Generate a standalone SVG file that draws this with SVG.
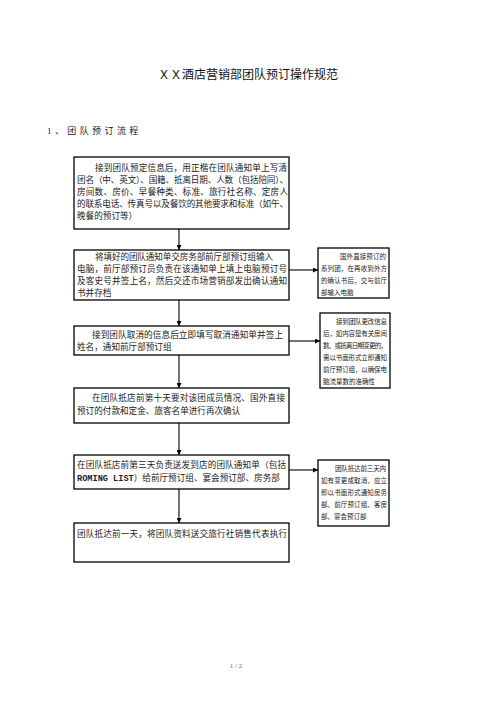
<svg xmlns="http://www.w3.org/2000/svg" width="496" height="701" viewBox="0 0 496 701">
<style>
.bg{fill:#ffffff}
.box{fill:#ffffff;stroke:#000;stroke-width:1.3}
.t{font-family:"Liberation Serif","Noto Sans CJK SC",serif;font-size:8.6px;fill:#222}
.ts{font-family:"Liberation Serif","Noto Sans CJK SC",serif;font-size:6.5px;fill:#222}
.mono{font-family:"Liberation Mono",monospace;font-weight:bold}
.title{font-family:"Liberation Sans","Noto Sans CJK SC",sans-serif;font-size:12px;fill:#111}
.h{font-family:"Liberation Serif","Noto Sans CJK SC",serif;font-size:9px;fill:#222;letter-spacing:3.4px}
.foot{font-family:"Liberation Serif","Noto Sans CJK SC",serif;font-size:7px;fill:#666}
.ln{stroke:#000;stroke-width:1.1;fill:none}
</style>
<defs>
<marker id="ah" viewBox="0 0 10 10" refX="10" refY="5" markerWidth="5" markerHeight="5" orient="auto" markerUnits="userSpaceOnUse">
<path d="M0,0 L10,5 L0,10 z" fill="#000"/>
</marker>
</defs>
<rect class="bg" x="0" y="0" width="496" height="701"/>
<text class="title" x="248" y="79" text-anchor="middle">ＸＸ酒店营销部团队预订操作规范</text>
<text class="h" x="47" y="134">1、团队预订流程</text>

<g id="connectors">
<line class="ln" x1="179" y1="229" x2="179" y2="250" marker-end="url(#ah)"/>
<line class="ln" x1="179" y1="300" x2="179" y2="326" marker-end="url(#ah)"/>
<line class="ln" x1="179" y1="355" x2="179" y2="388" marker-end="url(#ah)"/>
<line class="ln" x1="179" y1="423" x2="179" y2="455" marker-end="url(#ah)"/>
<line class="ln" x1="179" y1="489" x2="179" y2="523" marker-end="url(#ah)"/>
<line class="ln" x1="289" y1="270" x2="318" y2="270" marker-end="url(#ah)"/>
<line class="ln" x1="289" y1="341" x2="320" y2="341" marker-end="url(#ah)"/>
<line class="ln" x1="289" y1="470" x2="318" y2="470" marker-end="url(#ah)"/>
</g>

<g id="n1">
<rect class="box" x="74" y="157" width="215" height="72"/>
<text class="t" x="95" y="171" textLength="192" lengthAdjust="spacing">接到团队预定信息后，用正楷在团队通知单上写清</text>
<text class="t" x="77" y="183" textLength="211" lengthAdjust="spacing">团名（中、英文）、国籍、抵离日期、人数（包括陪同）、</text>
<text class="t" x="77" y="195" textLength="211" lengthAdjust="spacing">房间数、房价、早餐种类、标准、旅行社名称、定房人</text>
<text class="t" x="77" y="207" textLength="211" lengthAdjust="spacing">的联系电话、传真号以及餐饮的其他要求和标准（如午、</text>
<text class="t" x="77" y="219">晚餐的预订等）</text>
</g>

<g id="n2">
<rect class="box" x="74" y="250" width="215" height="50"/>
<text class="t" x="95" y="260" textLength="178" lengthAdjust="spacing">将填好的团队通知单交房务部前厅部预订组输入</text>
<text class="t" x="77" y="272" textLength="210" lengthAdjust="spacing">电脑，前厅部预订员负责在该通知单上填上电脑预订号</text>
<text class="t" x="77" y="284" textLength="210" lengthAdjust="spacing">及客史号并签上名，然后交还市场营销部发出确认通知</text>
<text class="t" x="77" y="296">书并存档</text>
</g>

<g id="s1">
<rect class="box" x="318" y="248" width="71" height="50"/>
<text class="ts" x="340" y="259" textLength="46" lengthAdjust="spacing">国外直接预订的</text>
<text class="ts" x="321" y="271" textLength="66" lengthAdjust="spacing">系列团，在再收到外方</text>
<text class="ts" x="321" y="283" textLength="66" lengthAdjust="spacing">的确认书后，交与前厅</text>
<text class="ts" x="321" y="295">部输入电脑</text>
</g>

<g id="n3">
<rect class="box" x="74" y="326" width="215" height="29"/>
<text class="t" x="92" y="338" textLength="191" lengthAdjust="spacing">接到团队取消的信息后立即填写取消通知单并签上</text>
<text class="t" x="77" y="350">姓名，通知前厅部预订组</text>
</g>

<g id="s2">
<rect class="box" x="320" y="313" width="70" height="75"/>
<text class="ts" x="336" y="324" textLength="51" lengthAdjust="spacing">接到团队更改信息</text>
<text class="ts" x="323" y="336" textLength="64" lengthAdjust="spacing">后，如内容是有关房间</text>
<text class="ts" x="323" y="348" textLength="64" lengthAdjust="spacing">数、或抵离日期变更的，</text>
<text class="ts" x="323" y="360" textLength="64" lengthAdjust="spacing">需以书面形式立即通知</text>
<text class="ts" x="323" y="372" textLength="64" lengthAdjust="spacing">前厅预订组，以确保电</text>
<text class="ts" x="323" y="384">脑流量数的准确性</text>
</g>

<g id="n4">
<rect class="box" x="74" y="388" width="215" height="35"/>
<text class="t" x="92" y="401" textLength="193" lengthAdjust="spacing">在团队抵店前第十天要对该团成员情况、国外直接</text>
<text class="t" x="77" y="414">预订的付款和定金、旅客名单进行再次确认</text>
</g>

<g id="n5">
<rect class="box" x="74" y="455" width="215" height="34"/>
<text class="t" x="77" y="468" textLength="209" lengthAdjust="spacing">在团队抵店前第三天负责送发到店的团队通知单（包括</text>
<text class="t" x="77" y="481"><tspan class="mono">ROMING LIST</tspan>）给前厅预订组、宴会预订部、房务部</text>
</g>

<g id="s3">
<rect class="box" x="318" y="460" width="71" height="66"/>
<text class="ts" x="335" y="471" textLength="51" lengthAdjust="spacing">团队抵达前三天内</text>
<text class="ts" x="321" y="483" textLength="66" lengthAdjust="spacing">如有变更或取消，应立</text>
<text class="ts" x="321" y="495" textLength="66" lengthAdjust="spacing">即以书面形式通知房务</text>
<text class="ts" x="321" y="507" textLength="66" lengthAdjust="spacing">部、前厅预订组、客房</text>
<text class="ts" x="321" y="519">部、宴会预订部</text>
</g>

<g id="n6">
<rect class="box" x="74" y="523" width="215" height="39"/>
<text class="t" x="77" y="537" textLength="210" lengthAdjust="spacing">团队抵达前一天，将团队资料送交旅行社销售代表执行</text>
</g>

<text class="foot" x="236" y="668" text-anchor="middle">1 / 2</text>
</svg>
